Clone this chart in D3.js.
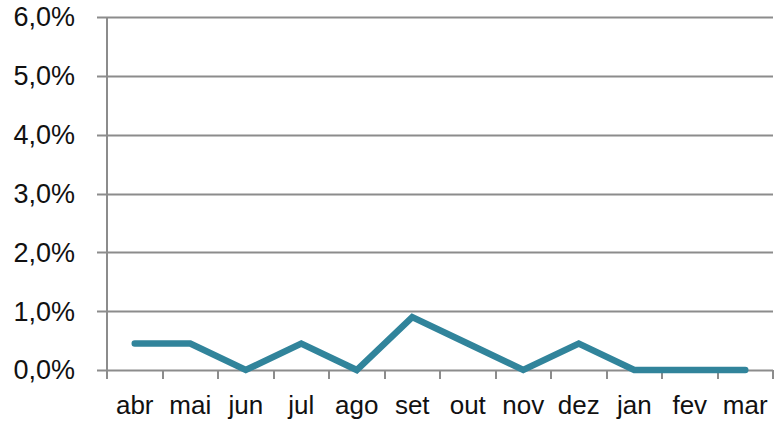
<!DOCTYPE html>
<html>
<head>
<meta charset="utf-8">
<script src="https://cdn.jsdelivr.net/npm/d3@7"></script>
<style>
  body { margin: 0; background: #fff; }
  svg text { font-family: "Liberation Sans", Arial, sans-serif; fill: #111; }
</style>
</head>
<body>
<div id="chart"></div>
<script>
const width = 776;
const height = 432;
const margin = { top: 17, right: 3, bottom: 62, left: 107 };

// chart data
const months = ["abr", "mai", "jun", "jul", "ago", "set", "out", "nov", "dez", "jan", "fev", "mar"];
const rates = [0.0045, 0.0045, 0, 0.0045, 0, 0.009, 0.0045, 0, 0.0045, 0, 0, 0];
const yTicks = [0, 0.01, 0.02, 0.03, 0.04, 0.05, 0.06];

const svg = d3.select("#chart")
    .append("svg")
    .attr("width", width)
    .attr("height", height);

const xScale = d3.scaleBand()
    .domain(months)
    .range([margin.left, width - margin.right]);

const yScale = d3.scaleLinear()
    .domain([0, 0.06])
    .range([height - margin.bottom, margin.top]);

const fmt = d => d3.format(".1f")(d * 100).replace(".", ",") + "%";

//gridlines (with the small tick stub on the left)
svg.append("g")
    .selectAll("line")
    .data(yTicks)
    .join("line")
    .attr("x1", margin.left - 10)
    .attr("x2", width - margin.right)
    .attr("y1", d => Math.round(yScale(d)) + 0.5)
    .attr("y2", d => Math.round(yScale(d)) + 0.5)
    .attr("stroke", "#8c8c8c")
    .attr("stroke-width", 2);

//y axis line
svg.append("line")
    .attr("x1", margin.left).attr("x2", margin.left)
    .attr("y1", margin.top).attr("y2", yScale(0))
    .attr("stroke", "#8c8c8c")
    .attr("stroke-width", 2);

//y labels
svg.append("g")
    .selectAll("text")
    .data(yTicks)
    .join("text")
    .attr("x", 75)
    .attr("y", d => yScale(d))
    .attr("dy", "0.35em")
    .attr("text-anchor", "end")
    .style("font-size", "27px")
    .text(fmt);

//x tick marks at band edges
const edges = months.map(m => xScale(m)).concat([width - margin.right]);
svg.append("g")
    .selectAll("line")
    .data(edges)
    .join("line")
    .attr("x1", d => Math.round(d))
    .attr("x2", d => Math.round(d))
    .attr("y1", yScale(0))
    .attr("y2", yScale(0) + 9)
    .attr("stroke", "#8c8c8c")
    .attr("stroke-width", 2);

//x labels
svg.append("g")
    .selectAll("text")
    .data(months)
    .join("text")
    .attr("x", d => xScale(d) + xScale.bandwidth() / 2)
    .attr("y", 414)
    .attr("text-anchor", "middle")
    .style("font-size", "26px")
    .text(d => d);

//the series line
const line = d3.line()
    .x((d, i) => xScale(months[i]) + xScale.bandwidth() / 2)
    .y(d => yScale(d));

svg.append("path")
    .datum(rates)
    .attr("d", line)
    .attr("fill", "none")
    .attr("stroke", "#31849b")
    .attr("stroke-width", 6.5)
    .attr("stroke-linecap", "round")
    .attr("stroke-linejoin", "miter");
</script>
</body>
</html>
